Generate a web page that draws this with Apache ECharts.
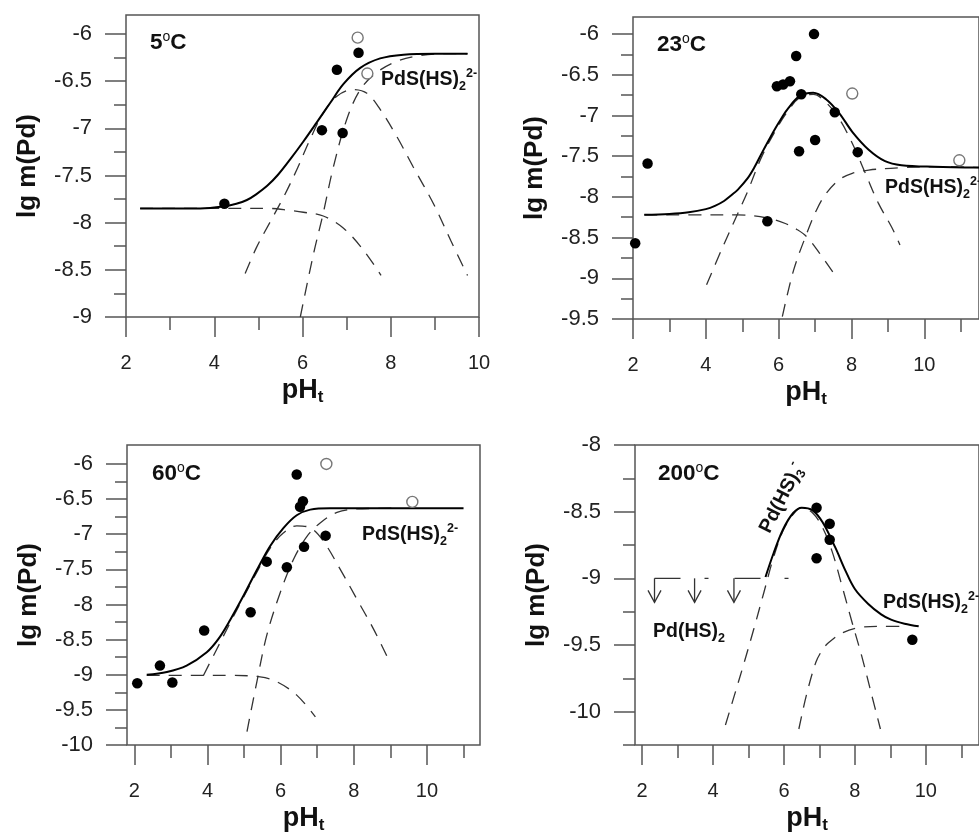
<!DOCTYPE html>
<html><head><meta charset="utf-8">
<script src="https://cdn.jsdelivr.net/npm/echarts@6/dist/echarts.min.js"></script>
<style>html,body{margin:0;padding:0;background:#fff}#c{width:979px;height:835px}</style>
</head><body><div id="c"></div>
<script>
// ---------------- data ----------------
// tick values
const xMajor = [2, 4, 6, 8, 10];
const xMinor = [3, 5, 7, 9, 11];
const yMajor5 = [-9, -8.5, -8, -7.5, -7, -6.5, -6];
const yMinor5 = [-8.75, -8.25, -7.75, -7.25, -6.75, -6.25];
const yMajor23 = [-9.5, -9, -8.5, -8, -7.5, -7, -6.5, -6];
const yMinor23 = [-9.25, -8.75, -8.25, -7.75, -7.25, -6.75, -6.25];
const yMajor60 = [-10, -9.5, -9, -8.5, -8, -7.5, -7, -6.5, -6];
const yMinor60 = [-9.75, -9.25, -8.75, -8.25, -7.75, -7.25, -6.75, -6.25];
const yMajor200 = [-10, -9.5, -9, -8.5, -8];
const yMinor200 = [-10.25, -9.75, -9.25, -8.75, -8.25];

// 5 °C
const obs5 = [[4.23,-7.80],[6.44,-7.02],[6.78,-6.38],[6.91,-7.05],[7.27,-6.20]];
const open5 = [[7.25,-6.04],[7.47,-6.42]];
const total5 = [[2.32,-7.85],[3.0,-7.85],[3.68,-7.85],[4.2,-7.83],[4.5,-7.80],[4.74,-7.76],[4.95,-7.70],[5.2,-7.61],[5.45,-7.49],[5.72,-7.33],[6.02,-7.14],[6.32,-6.94],[6.63,-6.73],[6.93,-6.53],[7.31,-6.36],[7.76,-6.26],[8.29,-6.22],[9.0,-6.21],[9.74,-6.21]];
const pd2_5 = [[2.32,-7.85],[4.5,-7.85],[5.27,-7.85],[5.7,-7.87],[6.02,-7.89],[6.47,-7.93],[6.93,-8.06],[7.38,-8.29],[7.78,-8.56]];
const pd3_5 = [[4.70,-8.54],[4.95,-8.27],[5.27,-7.99],[5.57,-7.73],[5.87,-7.44],[6.17,-7.12],[6.47,-6.84],[6.78,-6.66],[7.15,-6.59],[7.46,-6.63],[7.76,-6.80],[8.14,-7.09],[8.51,-7.41],[8.98,-7.81],[9.36,-8.19],[9.74,-8.56]];
const pds_5 = [[5.95,-9.0],[6.25,-8.33],[6.47,-7.90],[6.70,-7.41],[7.0,-6.91],[7.31,-6.59],[7.68,-6.41],[8.14,-6.29],[8.67,-6.23],[9.2,-6.21],[9.74,-6.21]];

// 23 °C
const obs23 = [[2.06,-8.57],[2.40,-7.59],[5.69,-8.30],[5.95,-6.64],[6.12,-6.62],[6.31,-6.58],[6.48,-6.27],[6.62,-6.74],[6.56,-7.44],[6.97,-6.00],[7.0,-7.30],[7.54,-6.96],[8.17,-7.45]];
const open23 = [[8.02,-6.73],[10.96,-7.55]];
const total23 = [[2.31,-8.22],[3.0,-8.21],[3.53,-8.19],[4.0,-8.15],[4.25,-8.11],[4.5,-8.05],[4.70,-7.98],[4.88,-7.91],[5.15,-7.77],[5.33,-7.64],[5.55,-7.45],[5.78,-7.26],[6.0,-7.09],[6.23,-6.93],[6.58,-6.76],[6.95,-6.72],[7.30,-6.80],[7.66,-6.97],[8.02,-7.20],[8.47,-7.42],[8.92,-7.56],[9.37,-7.61],[10.27,-7.63],[11.5,-7.64]];
const pd2_23 = [[2.31,-8.22],[4.0,-8.22],[4.88,-8.22],[5.69,-8.26],[6.2,-8.33],[6.5,-8.40],[6.77,-8.49],[7.12,-8.69],[7.53,-8.95]];
const pd3_23 = [[4.02,-9.08],[4.43,-8.65],[4.88,-8.20],[5.15,-7.93],[5.51,-7.53],[5.87,-7.22],[6.23,-6.96],[6.58,-6.78],[6.95,-6.74],[7.30,-6.84],[7.66,-7.04],[8.02,-7.34],[8.38,-7.71],[8.74,-8.08],[9.1,-8.37],[9.33,-8.59]];
const pds_23 = [[6.1,-9.47],[6.41,-8.90],[6.77,-8.45],[7.04,-8.16],[7.30,-7.96],[7.66,-7.79],[8.02,-7.71],[8.47,-7.67],[9.37,-7.64],[10.27,-7.63],[11.5,-7.64]];

// 60 °C
const obs60 = [[2.08,-9.12],[2.70,-8.87],[3.04,-9.11],[3.91,-8.37],[5.18,-8.11],[5.62,-7.39],[6.17,-7.47],[6.44,-6.15],[6.53,-6.61],[6.61,-6.53],[6.64,-7.18],[7.23,-7.02]];
const open60 = [[7.25,-6.0],[9.60,-6.54]];
const total60 = [[2.34,-9.0],[2.89,-8.96],[3.43,-8.87],[3.98,-8.68],[4.3,-8.49],[4.62,-8.22],[4.98,-7.88],[5.35,-7.51],[5.71,-7.17],[6.08,-6.91],[6.44,-6.73],[6.81,-6.65],[7.35,-6.63],[9.17,-6.63],[11.0,-6.63]];
const pd2_60 = [[2.34,-9.01],[3.8,-9.01],[4.62,-9.01],[5.44,-9.03],[5.90,-9.10],[6.44,-9.29],[6.95,-9.6]];
const pd3_60 = [[3.89,-9.01],[4.25,-8.64],[4.62,-8.26],[4.98,-7.90],[5.35,-7.54],[5.71,-7.20],[6.08,-6.98],[6.44,-6.88],[6.81,-6.91],[7.17,-7.10],[7.63,-7.50],[8.08,-7.92],[8.54,-8.35],[8.9,-8.73]];
const pds_60 = [[5.08,-9.81],[5.35,-9.10],[5.62,-8.44],[5.99,-7.83],[6.35,-7.36],[6.72,-7.03],[7.08,-6.84],[7.54,-6.69],[8.08,-6.64],[9.17,-6.63]];

// 200 °C
const obs200 = [[6.92,-8.47],[7.29,-8.59],[7.29,-8.71],[6.92,-8.85],[9.62,-9.46]];
const total200 = [[5.48,-8.99],[5.71,-8.81],[5.98,-8.63],[6.26,-8.51],[6.5,-8.47],[6.81,-8.49],[7.09,-8.58],[7.45,-8.77],[7.73,-8.94],[8.0,-9.08],[8.37,-9.19],[8.74,-9.27],[9.02,-9.31],[9.4,-9.34],[9.8,-9.36]];
const pd3_200 = [[4.35,-10.1],[4.6,-9.88],[4.88,-9.63],[5.15,-9.38],[5.43,-9.11],[5.71,-8.84],[5.98,-8.64],[6.26,-8.52],[6.5,-8.47],[6.81,-8.51],[7.09,-8.62],[7.36,-8.80],[7.64,-9.06],[7.91,-9.32],[8.19,-9.58],[8.46,-9.86],[8.72,-10.13]];
const pds_200 = [[6.42,-10.13],[6.63,-9.88],[6.9,-9.63],[7.1,-9.53],[7.27,-9.48],[7.64,-9.41],[8.1,-9.37],[8.83,-9.36],[9.38,-9.36]];
const pd2Limit200 = [[2.35,-9.0],[6.13,-9.0]];
const arrowPH200 = [2.35, 3.48, 4.59];
const arrowFrom200 = -9.0;
const arrowTo200 = -9.18;

// ---------------- chart ----------------
const FONT = "'Liberation Sans', Arial, Helvetica, sans-serif";
const AX = '#555';
const TXT = '#222';
const W = 353, H = 302;

const panels = [
  {left:126, top:15,  xmin:2,   xmax:10,    ymin:-9,     ymax:-5.8,  yMajor:yMajor5,   yMinor:yMinor5},
  {left:633, top:17,  xmin:2,   xmax:11.5,  ymin:-9.5,   ymax:-5.79, yMajor:yMajor23,  yMinor:yMinor23},
  {left:127, top:445, xmin:1.8, xmax:11.45, ymin:-10,    ymax:-5.73, yMajor:yMajor60,  yMinor:yMinor60},
  {left:635, top:445, xmin:1.8, xmax:11.5,  ymin:-10.25, ymax:-8,    yMajor:yMajor200, yMinor:yMinor200}
];

const grids = [], xAxes = [], yAxes = [];
panels.forEach((p, i) => {
  grids.push({left:p.left, top:p.top, width:W, height:H, show:true,
    borderColor:AX, borderWidth:1.5, backgroundColor:'transparent'});
  const inX = v => v >= p.xmin && v <= p.xmax;
  const xMaj = xMajor.filter(inX), xMin = xMinor.filter(inX);
  xAxes.push({gridIndex:i, type:'value', min:p.xmin, max:p.xmax, position:'bottom',
    axisLine:{show:false}, splitLine:{show:false},
    axisTick:{show:true, length:20, customValues:xMaj, lineStyle:{color:AX, width:1.5}},
    axisLabel:{customValues:xMaj, margin:36, fontSize:20, color:TXT, fontFamily:FONT},
    name:'{b|pH}{s|t}', nameLocation:'middle', nameGap:59,
    nameTextStyle:{rich:{
      b:{fontSize:27, fontWeight:'bold', color:'#111', fontFamily:FONT, lineHeight:30},
      s:{fontSize:17, fontWeight:'bold', color:'#111', fontFamily:FONT, verticalAlign:'bottom', lineHeight:12}
    }}
  });
  xAxes.push({gridIndex:i, type:'value', min:p.xmin, max:p.xmax, position:'bottom',
    axisLine:{show:false}, splitLine:{show:false}, axisLabel:{show:false},
    axisTick:{show:true, length:13, customValues:xMin, lineStyle:{color:AX, width:1.5}}
  });
  yAxes.push({gridIndex:i, type:'value', min:p.ymin, max:p.ymax, position:'left',
    axisLine:{show:false}, splitLine:{show:false},
    axisTick:{show:true, length:21, customValues:p.yMajor, lineStyle:{color:AX, width:1.5}},
    axisLabel:{customValues:p.yMajor, margin:34, fontSize:22, color:TXT, fontFamily:FONT},
    name:'lg m(Pd)', nameLocation:'middle', nameGap:85,
    nameTextStyle:{fontSize:26, fontWeight:'bold', color:'#111', fontFamily:FONT}
  });
  yAxes.push({gridIndex:i, type:'value', min:p.ymin, max:p.ymax, position:'left',
    axisLine:{show:false}, splitLine:{show:false}, axisLabel:{show:false},
    axisTick:{show:true, length:12, customValues:p.yMinor, lineStyle:{color:AX, width:1.5}}
  });
});

const series = [];
function solid(i, data){ series.push({type:'line', xAxisIndex:2*i, yAxisIndex:2*i, data, smooth:0.35,
  symbol:'none', silent:true, z:3, lineStyle:{color:'#000', width:2}}); }
function dashed(i, data){ series.push({type:'line', xAxisIndex:2*i, yAxisIndex:2*i, data, smooth:0.35,
  symbol:'none', silent:true, z:2, lineStyle:{color:'#333', width:1.3, type:[13,9]}}); }
function filled(i, data){ series.push({type:'scatter', xAxisIndex:2*i, yAxisIndex:2*i, data,
  symbol:'circle', symbolSize:10.5, z:5, itemStyle:{color:'#000', opacity:1}}); }
function hollow(i, data){ series.push({type:'scatter', xAxisIndex:2*i, yAxisIndex:2*i, data,
  symbol:'circle', symbolSize:11, z:5, itemStyle:{color:'#fff', borderColor:'#777', borderWidth:1.4, opacity:1}}); }

dashed(0, pd2_5); dashed(0, pd3_5); dashed(0, pds_5); solid(0, total5); filled(0, obs5); hollow(0, open5);
dashed(1, pd2_23); dashed(1, pd3_23); dashed(1, pds_23); solid(1, total23); filled(1, obs23); hollow(1, open23);
dashed(2, pd2_60); dashed(2, pd3_60); dashed(2, pds_60); solid(2, total60); filled(2, obs60); hollow(2, open60);
dashed(3, pd3_200); dashed(3, pds_200); solid(3, total200); filled(3, obs200);
series.push({type:'line', xAxisIndex:6, yAxisIndex:6, data:pd2Limit200, symbol:'none', silent:true, z:2,
  lineStyle:{color:'#333', width:1.3, type:[26,24,4,26]}});
series.push({type:'custom', xAxisIndex:6, yAxisIndex:6, silent:true, z:4,
  data: arrowPH200.map(p => [p, arrowFrom200, arrowTo200]),
  encode:{x:0, y:[1,2]},
  renderItem: function(params, api){
    const a = api.coord([api.value(0), api.value(1)]);
    const b = api.coord([api.value(0), api.value(2)]);
    const st = {stroke:'#333', lineWidth:1.3, fill:null};
    return {type:'group', children:[
      {type:'line', shape:{x1:a[0], y1:a[1], x2:b[0], y2:b[1]}, style:st},
      {type:'polyline', shape:{points:[[b[0]-6.5, b[1]-12],[b[0], b[1]],[b[0]+6.5, b[1]-12]]}, style:st}
    ]};
  }
});

// ---------- text annotations ----------
const tempRich = {
  t:{fontSize:22.5, fontWeight:'bold', fontFamily:FONT, fill:'#111', lineHeight:26},
  o:{fontSize:14, fontWeight:'normal', fontFamily:FONT, fill:'#111', verticalAlign:'top', lineHeight:15}
};
const spRich = {
  m:{fontSize:19.5, fontWeight:'bold', fontFamily:FONT, fill:'#111', lineHeight:26},
  sub:{fontSize:12.5, fontWeight:'bold', fontFamily:FONT, fill:'#111', verticalAlign:'bottom', lineHeight:10},
  sup:{fontSize:12.5, fontWeight:'bold', fontFamily:FONT, fill:'#111', verticalAlign:'top', lineHeight:14}
};
function txt(x, y, text, rich, rot){
  return {type:'text', x, y, rotation: rot || 0, z:10, silent:true,
    style:{text, rich, align: rot ? 'center' : 'left', verticalAlign:'middle'}};
}
const graphic = [
  txt(150, 43, '{t|5}{o|o}{t|C}', tempRich),
  txt(657, 45, '{t|23}{o|o}{t|C}', tempRich),
  txt(152, 474, '{t|60}{o|o}{t|C}', tempRich),
  txt(658, 474, '{t|200}{o|o}{t|C}', tempRich),
  txt(381, 80, '{m|PdS(HS)}{sub|2}{sup|2-}', spRich),
  txt(885, 188, '{m|PdS(HS)}{sub|2}{sup|2-}', spRich),
  txt(362, 535, '{m|PdS(HS)}{sub|2}{sup|2-}', spRich),
  txt(883, 603, '{m|PdS(HS)}{sub|2}{sup|2-}', spRich),
  txt(653, 632, '{m|Pd(HS)}{sub|2}', spRich),
  txt(782, 498, '{m|Pd(HS)}{sub|3}{sup|-}', spRich, 1.1)
];

const chart = echarts.init(document.getElementById('c'), null, {renderer:'canvas'});
chart.setOption({
  backgroundColor:'#fff',
  animation:false,
  grid:grids, xAxis:xAxes, yAxis:yAxes, series, graphic
});
</script>
</body></html>
